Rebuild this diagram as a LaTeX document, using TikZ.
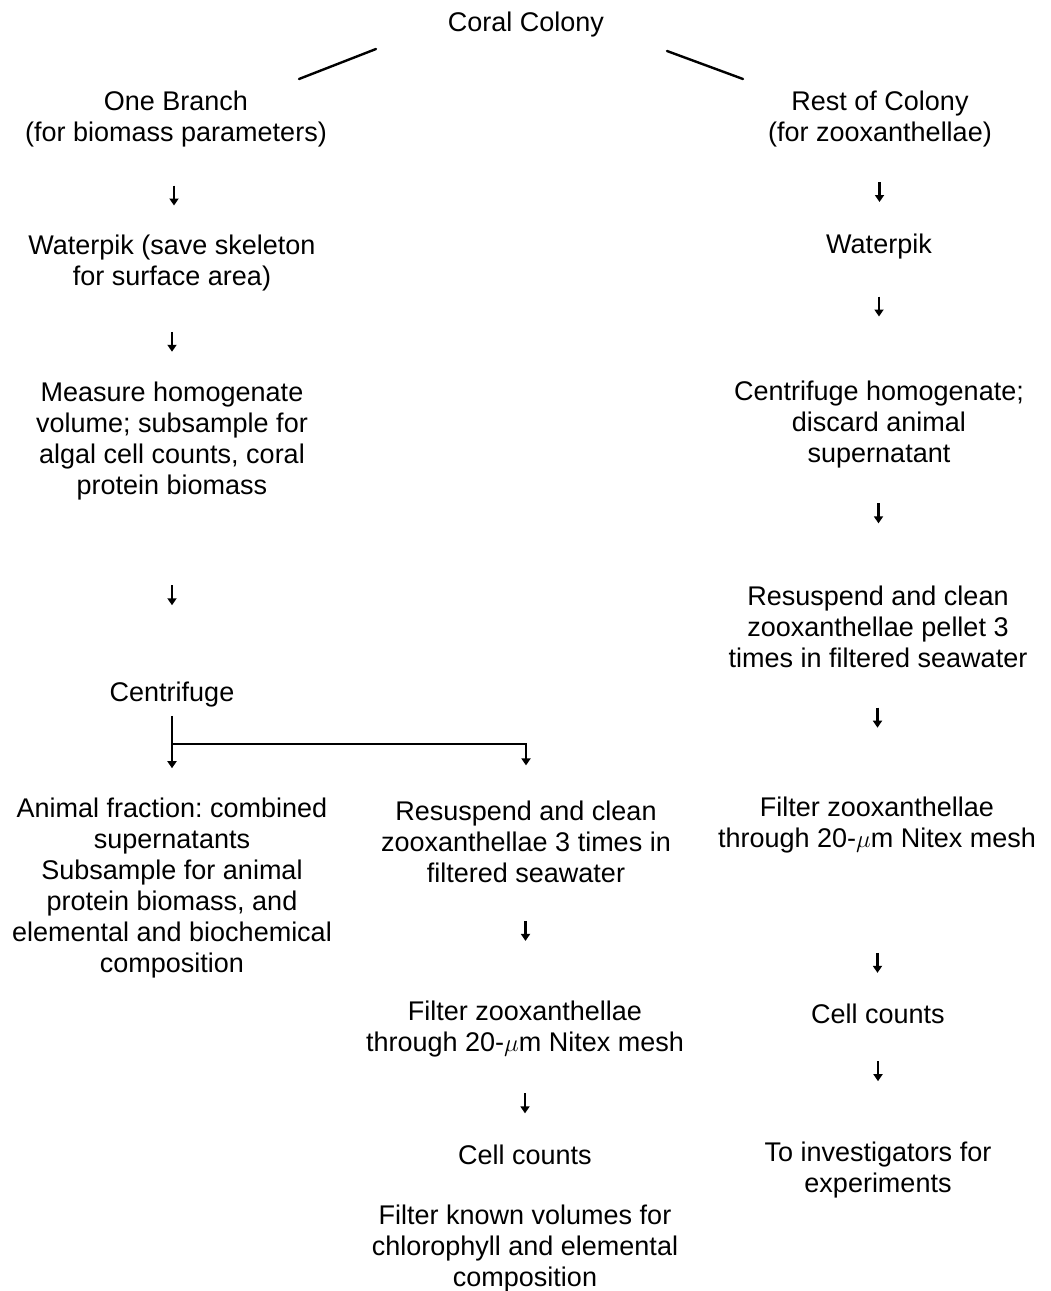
\documentclass[tikz,border=0pt]{standalone}
\usepackage{fontspec}
\setmainfont{Liberation Sans}
\usetikzlibrary{arrows.meta,calc}
\newcommand\flowarrow[3][0]{\draw[arr] ($(#2.south)!0.5!(#3.north)+(0,#1)$) +(0,-10) -- +(0,10);}
\begin{document}
\begin{tikzpicture}[x=1pt,y=-1pt,
  lbl/.style={align=center,inner sep=0pt,font=\fontsize{27}{31}\selectfont\frenchspacing},
  ln/.style={line width=2.4pt,line cap=round},
  arr/.style={line width=2.6pt,-{Triangle[length=7pt,width=9pt]}},
]
\useasboundingbox (0,0) rectangle (1050,1291);
% nodes
\node[lbl] (coral) at (526,25) {Coral Colony};
\node[lbl] (branch) at (176,119.5) {One Branch\\(for biomass parameters)};
\node[lbl] (rest) at (880,119.5) {Rest of Colony\\(for zooxanthellae)};
\node[lbl] (wpL) at (172,263.5) {Waterpik (save skeleton\\for surface area)};
\node[lbl] (measure) at (172,441) {Measure homogenate\\volume; subsample for\\algal cell counts, coral\\protein biomass};
\node[lbl] (centL) at (172,695) {Centrifuge};
\node[lbl] (animal) at (172,888.5) {Animal fraction: combined\\supernatants\\Subsample for animal\\protein biomass, and\\elemental and biochemical\\composition};
\node[lbl] (resusM) at (526,841.5) {Resuspend and clean\\zooxanthellae 3 times in\\filtered seawater};
\node[lbl] (filtM) at (525,1029.5) {Filter zooxanthellae\\through 20-$\mu$m Nitex mesh};
\node[lbl] (cellM) at (525,1155) {Cell counts};
\node[lbl] (known) at (525,1249) {Filter known volumes for\\chlorophyll and elemental\\composition};
\node[lbl] (wpR) at (879,247) {Waterpik};
\node[lbl] (centR) at (879,425) {Centrifuge homogenate;\\discard animal\\supernatant};
\node[lbl] (resusR) at (878,627) {Resuspend and clean\\zooxanthellae pellet 3\\times in filtered seawater};
\node[lbl] (filtR) at (877,825.5) {Filter zooxanthellae\\through 20-$\mu$m Nitex mesh};
\node[lbl] (cellR) at (878,1014) {Cell counts};
\node[lbl] (invest) at (878,1170.5) {To investigators for\\experiments};
% top split lines
\coordinate (tl1) at (299,79);
\coordinate (tl2) at (376,49);
\coordinate (tr1) at (667,51);
\coordinate (tr2) at (743,79);
\draw[ln] (tl1) -- (tl2);
\draw[ln] (tr1) -- (tr2);
% arrows
\flowarrow[4]{branch}{wpL}
\flowarrow[5]{wpL}{measure}
\flowarrow[4]{measure}{centL}
\flowarrow[-11]{resusM}{filtM}
\flowarrow[2]{filtM}{cellM}
\flowarrow[1]{rest}{wpR}
\flowarrow[-14]{wpR}{centR}
\flowarrow[-14]{centR}{resusR}
\flowarrow[-15]{resusR}{filtR}
\flowarrow[34]{filtR}{cellR}
\flowarrow[-12]{cellR}{invest}
% centrifuge split
\coordinate (split) at (172,744);
\draw[ln,line cap=butt] ([yshift=-8pt]centL.south) -- (split);
\draw[arr,shorten >=30pt] (split) -- (split |- animal.north);
\draw[arr,shorten >=35pt] (split) -| (resusM.north);
\end{tikzpicture}
\end{document}
